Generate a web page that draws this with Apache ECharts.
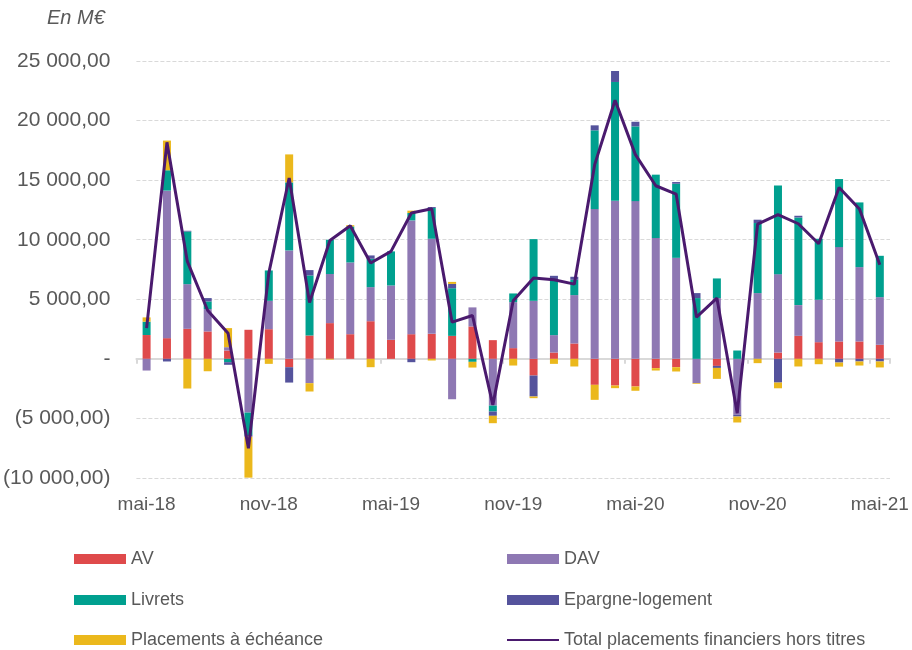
<!DOCTYPE html>
<html>
<head>
<meta charset="utf-8">
<script src="https://cdn.jsdelivr.net/npm/echarts@6/dist/echarts.min.js"></script>
<style>
  html, body { margin: 0; padding: 0; background: #fff; }
  #chart { width: 912px; height: 650px; }
</style>
</head>
<body>
<div id="chart"></div>
<script>
var months = ['mai-18', 'juin-18', 'juil-18', 'août-18', 'sept-18', 'oct-18',
  'nov-18', 'déc-18', 'janv-19', 'févr-19', 'mars-19', 'avr-19',
  'mai-19', 'juin-19', 'juil-19', 'août-19', 'sept-19', 'oct-19',
  'nov-19', 'déc-19', 'janv-20', 'févr-20', 'mars-20', 'avr-20',
  'mai-20', 'juin-20', 'juil-20', 'août-20', 'sept-20', 'oct-20',
  'nov-20', 'déc-20', 'janv-21', 'févr-21', 'mars-21', 'avr-21', 'mai-21']

var av = [2000, 1740, 2520, 2300, 700, 2440, 2490, -700, 1960, 3000, 2070, 3160,
  1600, 2070, 2100, 1930, 2720, 1570, 900, -1400, 530, 1290, -2180, -2240,
  -2320, -780, -700, 0, -590, 0, 0, 530, 1930, 1400, 1460, 1460, 1180]
var dav = [-980, 12380, 3750, 1880, 280, -4510, 2380, 9100, -2040, 4120, 6020, 2860,
  4560, 9550, 7980, -3390, 1600, -3920, 3860, 4870, 1460, 4060, 12570, 13270,
  13240, 10140, 8480, -2040, 5100, -4700, 5520, 6580, 2580, 3560, 7920, 6240, 4000]
var livrets = [1120, 1710, 4420, 640, -280, -1880, 2550, 5710, 5040, 2880, 3020, 2380,
  2860, 620, 2580, 4000, -250, -500, 730, 5180, 4700, 1290, 6610, 9970,
  6270, 5320, 6220, 5100, 1650, 700, 5880, 7450, 7360, 5120, 5710, 5430, 3470]
var epargneLogement = [0, -220, 60, 280, -220, -140, 0, -1290, 450, 0, 0, 280,
  0, -280, 80, 360, 0, -360, 0, -1760, 280, 250, 420, 920,
  390, 0, 140, 420, -170, -140, 280, -1990, 140, 0, -310, -220, -220]
var placements = [360, 2490, -2490, -1040, 1600, -3440, -420, 2350, -700, -60, 110, -700,
  0, 200, -140, 170, -480, -620, -560, -140, -420, -640, -1260, -220,
  -360, -200, -360, -60, -920, -500, -360, -480, -640, -450, -340, -340, -500]
var total = [2580, 18170, 8180, 4060, 2150, -7500, 7200, 15180, 4730, 9940, 11170, 8040,
  9020, 12240, 12600, 3080, 3640, -3860, 4870, 6780, 6640, 6270, 16300, 21700,
  17140, 14530, 13830, 3500, 5100, -4560, 11310, 12100, 11340, 9660, 14390, 12570, 7900]

var textColor = '#595959'
var font = '"Liberation Sans", Arial, sans-serif'

function fmt(v) {
  if (v === 0) return '-'
  var s = Math.abs(v).toString().replace(/\B(?=(\d{3})+(?!\d))/g, ' ') + ',00'
  return v < 0 ? '(' + s + ')' : s
}

function barSeries(name, data, color) {
  return {
    name: name,
    type: 'bar',
    stack: 'flux',
    barWidth: 8,
    xAxisIndex: 0,
    itemStyle: { color: color },
    data: data
  }
}

// one legend per entry, laid out as two columns of three rows
function legendItem(name, left, top, iconHeight) {
  return {
    left: left,
    top: top,
    padding: 0,
    itemWidth: 52,
    itemHeight: iconHeight || 10,
    textStyle: { fontSize: 18, color: textColor, fontFamily: font },
    data: [{ name: name, icon: 'rect' }]
  }
}

var chart = echarts.init(document.getElementById('chart'))
chart.setOption({
  backgroundColor: '#ffffff',
  animation: false,
  textStyle: { fontFamily: font },
  graphic: [{
    type: 'text',
    left: 47,
    top: 8,
    style: {
      text: 'En M€',
      font: 'italic 20px ' + font,
      fill: textColor
    }
  }],
  grid: {
    left: 135,
    right: 22,
    top: 61,
    bottom: 172
  },
  legend: [
    legendItem('AV', 74, 550),
    legendItem('Livrets', 74, 591),
    legendItem('Placements à échéance', 74, 631),
    legendItem('DAV', 507, 550),
    legendItem('Epargne-logement', 507, 591),
    legendItem('Total placements financiers hors titres', 507, 631, 2)
  ],
  xAxis: [{
    type: 'category',
    data: months,
    axisLine: { onZero: true, lineStyle: { color: '#d9d9d9', width: 2 } },
    axisTick: { show: true, interval: 5, length: 5, lineStyle: { color: '#d9d9d9', width: 2 } },
    axisLabel: { show: false }
  }, {
    type: 'category',
    data: months,
    position: 'bottom',
    axisLine: { show: false, onZero: false },
    axisTick: { show: false },
    axisLabel: {
      interval: 5,
      margin: 17,
      fontSize: 19,
      color: textColor
    }
  }],
  yAxis: {
    type: 'value',
    min: -10000,
    max: 25000,
    interval: 5000,
    axisLine: { show: false },
    axisTick: { show: false },
    axisLabel: {
      margin: 26,
      fontSize: 21,
      color: textColor,
      formatter: fmt
    },
    splitLine: {
      lineStyle: { color: '#d9d9d9', type: 'dashed', width: 1 }
    }
  },
  series: [
    barSeries('AV', av, '#df4a4b'),
    barSeries('DAV', dav, '#8e78b3'),
    barSeries('Livrets', livrets, '#00a08f'),
    barSeries('Epargne-logement', epargneLogement, '#55539c'),
    barSeries('Placements à échéance', placements, '#ebb81c'),
    {
      name: 'Total placements financiers hors titres',
      type: 'line',
      xAxisIndex: 0,
      symbol: 'none',
      z: 5,
      lineStyle: { color: '#4a1a6e', width: 3 },
      itemStyle: { color: '#4a1a6e' },
      data: total
    }
  ]
})
</script>
</body>
</html>
